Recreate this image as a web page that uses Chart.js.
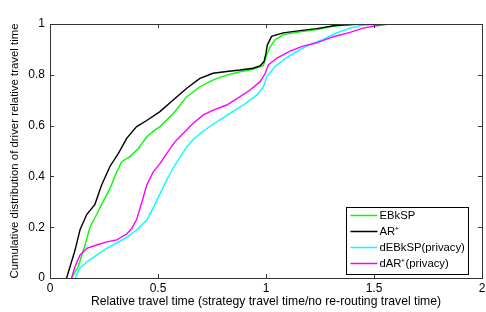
<!DOCTYPE html>
<html>
<head>
<meta charset="utf-8">
<script src="https://cdn.jsdelivr.net/npm/chart.js@4"></script>
<style>
  html, body { margin: 0; padding: 0; background: #fff; }
  #wrap { width: 486px; height: 312px; }
</style>
</head>
<body>
<div id="wrap"><canvas id="cdfChart" width="486" height="312"></canvas></div>
<script>
// tick labels
const xTicks = [0, 0.5, 1, 1.5, 2];
const yTicks = [0, 0.2, 0.4, 0.6, 0.8, 1];

// EBkSP (green)
const ebkspX = [0.100, 0.131, 0.162, 0.185, 0.216, 0.239, 0.278, 0.309, 0.332, 0.370, 0.409, 0.448, 0.486, 0.509, 0.571, 0.633, 0.694, 0.756, 0.818, 0.880, 0.941, 0.988, 1.003, 1.019, 1.042, 1.080, 1.157, 1.235, 1.312, 1.412];
const ebkspY = [0, 0.045, 0.13, 0.20, 0.25, 0.29, 0.353, 0.418, 0.458, 0.478, 0.51, 0.556, 0.583, 0.596, 0.648, 0.714, 0.753, 0.78, 0.799, 0.812, 0.822, 0.837, 0.878, 0.909, 0.938, 0.958, 0.969, 0.978, 0.991, 1];

// AR+ (black)
const arX = [0.077, 0.116, 0.139, 0.170, 0.208, 0.239, 0.278, 0.316, 0.355, 0.401, 0.448, 0.509, 0.569, 0.633, 0.694, 0.755, 0.818, 0.880, 0.940, 0.972, 0.991, 1.000, 1.006, 1.026, 1.080, 1.157, 1.235, 1.327, 1.45];
const arY = [0, 0.11, 0.19, 0.25, 0.29, 0.366, 0.44, 0.49, 0.55, 0.596, 0.62, 0.655, 0.70, 0.747, 0.786, 0.806, 0.813, 0.819, 0.826, 0.835, 0.852, 0.885, 0.917, 0.951, 0.965, 0.974, 0.982, 0.995, 1];

// dEBkSP(privacy) (cyan)
const debkspX = [0.116, 0.139, 0.170, 0.216, 0.262, 0.309, 0.355, 0.401, 0.448, 0.478, 0.509, 0.540, 0.571, 0.602, 0.633, 0.663, 0.710, 0.772, 0.833, 0.895, 0.957, 0.988, 1.003, 1.042, 1.096, 1.157, 1.204, 1.265, 1.327, 1.389, 1.444, 1.528, 1.574];
const debkspY = [0, 0.04, 0.063, 0.09, 0.117, 0.138, 0.159, 0.189, 0.228, 0.276, 0.331, 0.386, 0.435, 0.476, 0.516, 0.545, 0.579, 0.615, 0.648, 0.681, 0.72, 0.752, 0.791, 0.833, 0.868, 0.899, 0.919, 0.939, 0.965, 0.984, 0.995, 0.999, 1];

// dAR+(privacy) (magenta)
const darX = [0.100, 0.116, 0.139, 0.170, 0.216, 0.262, 0.309, 0.355, 0.378, 0.401, 0.424, 0.448, 0.478, 0.509, 0.540, 0.579, 0.617, 0.663, 0.710, 0.756, 0.818, 0.880, 0.926, 0.972, 0.995, 1.011, 1.051, 1.111, 1.171, 1.231, 1.312, 1.389, 1.449, 1.505, 1.560, 1.736];
const darY = [0, 0.045, 0.09, 0.117, 0.13, 0.142, 0.15, 0.173, 0.195, 0.23, 0.295, 0.366, 0.418, 0.45, 0.49, 0.537, 0.57, 0.609, 0.642, 0.661, 0.681, 0.714, 0.74, 0.772, 0.803, 0.839, 0.866, 0.893, 0.913, 0.925, 0.95, 0.967, 0.984, 0.992, 0.999, 1];

const seriesNames = ['EBkSP', 'AR\u207A', 'dEBkSP(privacy)', 'dAR\u207A(privacy)'];
const seriesColors = ['#00ff00', '#000000', '#00ffff', '#ff00ff'];

function pts(xs, ys) {
  return xs.map((x, i) => ({ x: x, y: ys[i] }));
}

const FONT = 'Liberation Sans, Arial, sans-serif';

// matlab-like box with inward ticks + legend inside the axes
const matlabBox = {
  id: 'matlabBox',
  afterDraw(chart) {
    const ctx = chart.ctx;
    const a = chart.chartArea;
    const xs = chart.scales.x, ys = chart.scales.y;
    ctx.save();
    ctx.strokeStyle = '#333';
    ctx.lineWidth = 1;
    ctx.beginPath();
    xTicks.forEach(v => {
      const px = Math.round(xs.getPixelForValue(v)) + 0.5;
      ctx.moveTo(px, a.bottom); ctx.lineTo(px, a.bottom - 4);
      ctx.moveTo(px, a.top); ctx.lineTo(px, a.top + 4);
    });
    yTicks.forEach(v => {
      const py = Math.round(ys.getPixelForValue(v)) + 0.5;
      ctx.moveTo(a.left, py); ctx.lineTo(a.left + 4, py);
      ctx.moveTo(a.right, py); ctx.lineTo(a.right - 4, py);
    });
    ctx.stroke();
    ctx.strokeRect(Math.round(a.left) + 0.5, Math.round(a.top) + 0.5,
      Math.round(a.right - a.left), Math.round(a.bottom - a.top));

    // legend
    const lx = 346.5, ly = 207.5, lw = 122, lh = 67;
    ctx.fillStyle = '#fff';
    ctx.fillRect(lx, ly, lw, lh);
    ctx.strokeStyle = '#000';
    ctx.strokeRect(lx, ly, lw, lh);
    ctx.font = '11.3px ' + FONT;
    ctx.textBaseline = 'middle';
    seriesNames.forEach((name, i) => {
      const y = ly + 8 + i * 16;
      ctx.strokeStyle = seriesColors[i];
      ctx.lineWidth = 1.5;
      ctx.beginPath();
      ctx.moveTo(lx + 4, y); ctx.lineTo(lx + 31, y);
      ctx.stroke();
      ctx.fillStyle = '#000';
      ctx.fillText(name, lx + 33, y + 0.5);
    });
    ctx.restore();
  }
};

const ctx = document.getElementById('cdfChart').getContext('2d');
new Chart(ctx, {
  type: 'line',
  data: {
    datasets: [
      { label: seriesNames[0], data: pts(ebkspX, ebkspY), borderColor: seriesColors[0], order: 4 },
      { label: seriesNames[1], data: pts(arX, arY), borderColor: seriesColors[1], order: 3 },
      { label: seriesNames[2], data: pts(debkspX, debkspY), borderColor: seriesColors[2], order: 2 },
      { label: seriesNames[3], data: pts(darX, darY), borderColor: seriesColors[3], order: 1 }
    ]
  },
  options: {
    responsive: false,
    animation: false,
    layout: { padding: { top: 24, right: 4, left: 0, bottom: 0 } },
    elements: {
      line: { borderWidth: 1.4, tension: 0, fill: false },
      point: { radius: 0, hoverRadius: 0 }
    },
    plugins: { legend: { display: false }, tooltip: { enabled: false } },
    scales: {
      x: {
        type: 'linear', min: 0, max: 2,
        afterBuildTicks: s => { s.ticks = xTicks.map(v => ({ value: v })); },
        afterFit: s => { s.height = 34; s.paddingLeft = 0; s.paddingRight = 0; },
        grid: { display: false, drawTicks: false },
        border: { display: false },
        ticks: { color: '#000', padding: 3, font: { family: FONT, size: 12 }, maxRotation: 0,
          callback: v => String(v) },
        title: { display: true, text: 'Relative travel time (strategy travel time/no re-routing travel time)',
          color: '#000', font: { family: FONT, size: 12.2 }, padding: { top: 0, bottom: 3 } }
      },
      y: {
        type: 'linear', min: 0, max: 1,
        afterBuildTicks: s => { s.ticks = yTicks.map(v => ({ value: v })); },
        afterFit: s => { s.width = 50; s.paddingTop = 0; s.paddingBottom = 0; },
        grid: { display: false, drawTicks: false },
        border: { display: false },
        ticks: { color: '#000', padding: 5, font: { family: FONT, size: 12 },
          callback: v => String(v) },
        title: { display: true, text: 'Cumulative distribution of driver relative travel time',
          color: '#000', font: { family: FONT, size: 11.4 }, padding: { top: 8, bottom: 0 } }
      }
    }
  },
  plugins: [matlabBox]
});
</script>
</body>
</html>
